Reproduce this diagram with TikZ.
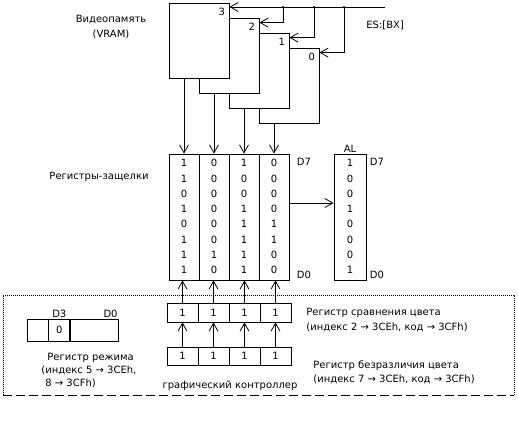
\documentclass[tikz,border=0pt]{standalone}
\usepackage{fontspec}
\setmainfont{DejaVu Sans}
\usetikzlibrary{calc,arrows.meta,positioning}
\definecolor{inkc}{HTML}{000000}
\tikzset{
  ar/.style={-{Straight Barb[length=8pt,width=9pt]},inkc},
  plane/.style={draw=inkc,fill=white,minimum width=60pt,minimum height=75pt,inner sep=0pt},
  bitcol/.style={draw=inkc,minimum width=30pt,minimum height=126pt,inner sep=0pt},
  cell/.style={draw=inkc,minimum width=31pt,minimum height=19pt,inner sep=0pt,font=\fontsize{10}{11}\selectfont},
  lbl/.style={font=\fontsize{10}{15}\selectfont,inner sep=1pt},
  bit/.style={font=\fontsize{10}{11}\selectfont,inner sep=0pt}
}

\begin{document}
\begin{tikzpicture}[x=1pt,y=-1pt,line width=0.8pt]
\useasboundingbox (0,0) rectangle (518,428);
% video memory planes, back to front
\foreach \k/\dx in {0/90,1/60,2/30,3/0}{
  \node[plane] (p\k) at (199+\dx,40.5+\dx/2) {};
  \node[bit,anchor=north east] at ($(p\k.north east)+(-4,5)$) {\k};
}
\node[lbl,align=center] (vram) at (111,27.5) {Видеопамять\\(VRAM)};
% address bus
\coordinate (es) at (385,7);
\draw[ar] (es) -- (es -| p3.east);
\node[lbl,anchor=west] (eslbl) at (365,25) {ES:[BX]};
\foreach \k/\jx in {2/283,1/314,0/344}{
  \coordinate (j\k) at (\jx,7);
  \draw[ar] (j\k) |- ($(p\k.north east)+(0,5)$);
  \fill (j\k) circle (1.2pt);
}
% latch registers
\node[lbl] (latchlbl) at (99,177) {Регистры-защелки};
\foreach \k/\i/\bits in {3/0/{1,1,0,1,0,1,1,1},2/1/{0,0,0,0,0,0,1,0},1/2/{1,0,0,1,1,1,1,1},0/3/{0,0,0,0,1,1,0,0}}{
  \node[bitcol] (l\k) at (184+30*\i,217) {};
  \foreach \b [count=\r from 0] in \bits
    \node[bit] at ($(l\k.north)+(0,9.5+15.3*\r)$) {\b};
  \draw[ar] (p\k.south west -| l\k.north) -- (l\k.north);
}
\node[lbl,anchor=west] at ($(l0.north east)+(6,8)$) {D7};
\node[lbl,anchor=west] at ($(l0.south east)+(6,-6)$) {D0};
% AL
\node[bitcol,minimum width=32pt] (al) at (350,217) {};
\foreach \b [count=\r from 0] in {1,0,0,1,0,0,0,1}
  \node[bit] at ($(al.north)+(0,9.5+15.3*\r)$) {\b};
\node[lbl,above] at (al.north) {AL};
\node[lbl,anchor=west] at ($(al.north east)+(2,8)$) {D7};
\node[lbl,anchor=west] at ($(al.south east)+(2,-6)$) {D0};
\draw[ar] ($(l0.east)+(0,-14)$) -- ($(al.west)+(0,-14)$);
% graphics controller frame
\draw[dash pattern=on 1pt off 1pt] (3,395) -- (3,295) -- (514,295) -- (514,395);
\draw[dash pattern=on 9pt off 4pt] (3,395) -- (514,395);
% colour compare and colour don't care registers
\foreach \k/\i in {3/0,2/1,1/2,0/3}{
  \node[cell] (c\k) at (182.5+31*\i,312.5) {1};
  \node[cell,minimum height=18pt] (d\k) at (182.5+31*\i,356) {1};
  \draw[ar] (c\k.north) -- (c\k.north |- l\k.south);
  \draw[ar] (d\k.north) -- (c\k.south);
}
\node[lbl,anchor=west,align=left] (cmplbl) at (305,320) {Регистр сравнения цвета\\(индекс 2 → 3CEh, код → 3CFh)};
\node[lbl,anchor=west,align=left,font=\fontsize{10}{14}\selectfont] (dclbl) at (312,372) {Регистр безразличия цвета\\(индекс 7 → 3CEh, код → 3CFh)};
\node[lbl] (gclbl) at (230,386) {графический контроллер};
% mode register
\node[cell,minimum width=21pt,minimum height=22pt] (m3) at (37.5,330) {};
\node[cell,minimum width=21pt,minimum height=22pt,right=0pt of m3] (m2) {0};
\node[cell,minimum width=48pt,minimum height=22pt,right=0pt of m2] (m1) {};
\node[lbl,above] at (m2.north) {D3};
\node[lbl,above left] at (m1.north east) {D0};
\node[lbl,anchor=north west,align=left,font=\fontsize{10}{13}\selectfont] (modelbl) at (40,352) {\hspace{6pt}Регистр режима\\(индекс 5 → 3CEh,\\\hspace{4pt}8 → 3CFh)};
\end{tikzpicture}
\end{document}
